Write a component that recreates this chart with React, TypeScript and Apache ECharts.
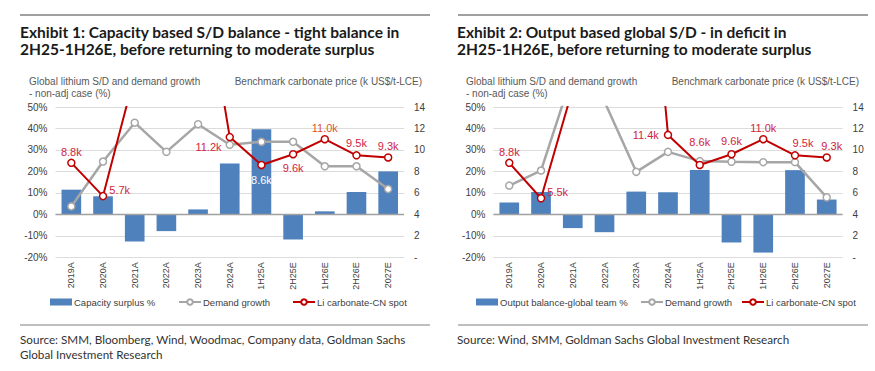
import React, { useEffect, useRef } from 'react';
import * as echarts from 'echarts';

const categories = ['2019A', '2020A', '2021A', '2022A', '2023A', '2024A', '1H25A', '2H25E', '1H26E', '2H26E', '2027E'];

// Exhibit 1
const capacitySurplus = [11.5, 8.4, -12.6, -7.8, 2.3, 23.7, 39.6, -11.7, 1.4, 10.4, 20.0];
const demandGrowth1 = [3.7, 24.6, 42.7, 29.1, 42.0, 32.4, 33.8, 33.8, 22.4, 22.4, 11.8];
const price1 = [8.8, 5.7, 17.0, 70.0, 29.0, 11.2, 8.6, 9.6, 11.0, 9.5, 9.3];

// Exhibit 2
const outputBalance = [5.5, 10.4, -6.4, -8.3, 10.6, 10.3, 20.7, -13.1, -17.8, 20.6, 6.9];
const demandGrowth2 = [13.4, 20.4, 65.7, 52.5, 19.8, 29.1, 24.8, 24.5, 24.3, 24.3, 7.9];
const price2 = [8.8, 5.5, 15.7, 70.0, 44.0, 11.4, 8.6, 9.6, 11.0, 9.5, 9.3];

const pctTicks = { min: -20, max: 50, interval: 10 };
const priceTicks = { min: 0, max: 14, interval: 2 };

const BLUE = '#4f81bd';
const GREY = '#a6a6a6';
const RED = '#c00000';
const LABEL_RED = '#d0243f';
const FONT = 'Liberation Sans';

type LabelSpec = null | { position: string; offset?: [number, number]; color?: string };

const labels1: LabelSpec[] = [
  { position: 'top', offset: [0, 3] },
  { position: 'right', offset: [-2, -6] },
  null, null, null,
  { position: 'left', offset: [0, 10] },
  { position: 'bottom', offset: [0, 1], color: '#ffffff' },
  { position: 'bottom' },
  { position: 'top', offset: [0, 3], color: '#e0562e' },
  { position: 'top', offset: [0, 1] },
  { position: 'top', offset: [0, 2] },
];
const labels2: LabelSpec[] = [
  { position: 'top', offset: [0, 3] },
  { position: 'right', offset: [-2, -6] },
  null, null, null,
  { position: 'left', offset: [-1, 0] },
  { position: 'top', offset: [0, -9] },
  { position: 'top', offset: [0, 1] },
  { position: 'top', offset: [0, 3] },
  { position: 'top', offset: [8, 1] },
  { position: 'top', offset: [5, 2] },
];

function priceData(values: number[], specs: LabelSpec[]) {
  return values.map((v, i) => {
    const s = specs[i];
    if (!s) return { value: v, label: { show: false } };
    return {
      value: v,
      label: {
        show: true,
        position: s.position,
        distance: 4,
        offset: s.offset || [0, 0],
        color: s.color || LABEL_RED,
        fontSize: 11,
        fontFamily: FONT,
        formatter: (p: any) => p.value.toFixed(1) + 'k',
      },
    };
  });
}

function buildAxes(gi: number) {
  const x = {
    type: 'category',
    gridIndex: gi,
    data: categories,
    axisLine: { show: false },
    axisTick: { show: false },
    axisLabel: { rotate: 90, interval: 0, fontSize: 9, color: '#404040', margin: 5, fontFamily: FONT },
  };
  const yl = {
    type: 'value',
    gridIndex: gi,
    position: 'left',
    ...pctTicks,
    axisLine: { show: false },
    axisTick: { show: false },
    axisLabel: { formatter: '{value}%', fontSize: 10, color: '#404040', margin: 8, fontFamily: FONT },
    splitLine: { lineStyle: { color: '#dcdcdc', width: 1.2 } },
  };
  const yr = {
    type: 'value',
    gridIndex: gi,
    position: 'right',
    ...priceTicks,
    axisLine: { show: false },
    axisTick: { show: false },
    axisLabel: {
      formatter: (v: number) => (v === 0 ? '-' : String(v)),
      fontSize: 10,
      color: '#404040',
      margin: 10,
      fontFamily: FONT,
    },
    splitLine: { show: false },
  };
  return { x, yl, yr };
}

function buildSeries(gi: number, barName: string, bars: number[], demand: number[], price: number[], specs: LabelSpec[]) {
  return [
    {
      name: barName,
      type: 'bar',
      xAxisIndex: gi,
      yAxisIndex: gi * 2,
      data: bars,
      barCategoryGap: '38%',
      itemStyle: { color: BLUE },
      z: 2,
      markLine: {
        silent: true,
        symbol: 'none',
        label: { show: false },
        lineStyle: { color: '#a0a0a0', type: 'solid', width: 1.3 },
        data: [{ yAxis: 0 }],
      },
    },
    {
      name: 'Demand growth',
      type: 'line',
      xAxisIndex: gi,
      yAxisIndex: gi * 2,
      data: demand,
      symbol: 'circle',
      symbolSize: 7,
      lineStyle: { color: GREY, width: 2.5 },
      itemStyle: { color: '#ffffff', borderColor: GREY, borderWidth: 1.5 },
      z: 3,
    },
    {
      name: 'Li carbonate-CN spot',
      type: 'line',
      xAxisIndex: gi,
      yAxisIndex: gi * 2 + 1,
      data: priceData(price, specs),
      symbol: 'circle',
      symbolSize: 7,
      clip: true,
      lineStyle: { color: RED, width: 2 },
      itemStyle: { color: '#ffffff', borderColor: RED, borderWidth: 1.5 },
      z: 4,
    },
  ];
}

function legendItem(name: string, left: number, rect: boolean) {
  return {
    left,
    top: 297,
    padding: 0,
    itemWidth: 22,
    itemHeight: 7,
    textStyle: { fontSize: 9.5, color: '#404040', fontFamily: FONT, padding: [0, 0, 0, -3] },
    data: [rect ? { name, icon: 'rect' } : name],
  };
}

export default function App() {
  const ref = useRef<HTMLDivElement>(null);
  useEffect(() => {
    const chart = echarts.init(ref.current!, null, { renderer: 'svg' });
    const a0 = buildAxes(0);
    const a1 = buildAxes(1);
    const titleFont = 'bold 15.5px Lato';
    const smallFont = `10px "${FONT}"`;
    const sourceFont = '11.7px Lato';
    const option: any = {
      animation: false,
      backgroundColor: '#ffffff',
      grid: [
        { left: 55.5, top: 107, width: 348.5, height: 150.3 },
        { left: 493.4, top: 107, width: 349.2, height: 150.3 },
      ],
      xAxis: [a0.x, a1.x],
      yAxis: [a0.yl, a0.yr, a1.yl, a1.yr],
      legend: [
        legendItem('Capacity surplus %', 50, true),
        legendItem('Demand growth', 178, false),
        legendItem('Li carbonate-CN spot', 292, false),
        legendItem('Output balance-global team %', 476, true),
        legendItem('Demand growth', 640, false),
        legendItem('Li carbonate-CN spot', 741, false),
      ],
      series: [
        ...buildSeries(0, 'Capacity surplus %', capacitySurplus, demandGrowth1, price1, labels1),
        ...buildSeries(1, 'Output balance-global team %', outputBalance, demandGrowth2, price2, labels2),
      ],
      graphic: [
        { type: 'line', shape: { x1: 20, y1: 15, x2: 430, y2: 15 }, style: { stroke: '#808080', lineWidth: 1.5 } },
        { type: 'line', shape: { x1: 458, y1: 15, x2: 868, y2: 15 }, style: { stroke: '#808080', lineWidth: 1.5 } },
        {
          type: 'text', x: 20, y: 23,
          style: {
            text: 'Exhibit 1: Capacity based S/D balance - tight balance in\n2H25-1H26E, before returning to moderate surplus',
            font: titleFont, lineHeight: 17.5, fill: '#1a1a1a',
          },
        },
        {
          type: 'text', x: 457, y: 23,
          style: {
            text: 'Exhibit 2: Output based global S/D - in deficit in\n2H25-1H26E, before returning to moderate surplus',
            font: titleFont, lineHeight: 17.5, fill: '#1a1a1a',
          },
        },
        {
          type: 'text', x: 29, y: 76,
          style: { text: 'Global lithium S/D and demand growth\n- non-adj case (%)', font: smallFont, lineHeight: 11.5, fill: '#595959' },
        },
        {
          type: 'text', x: 422, y: 76,
          style: { text: 'Benchmark carbonate price (k US$/t-LCE)', font: smallFont, lineHeight: 11.5, fill: '#595959', align: 'right' },
        },
        {
          type: 'text', x: 466, y: 76,
          style: { text: 'Global lithium S/D and demand growth\n- non-adj case (%)', font: smallFont, lineHeight: 11.5, fill: '#595959' },
        },
        {
          type: 'text', x: 859, y: 76,
          style: { text: 'Benchmark carbonate price (k US$/t-LCE)', font: smallFont, lineHeight: 11.5, fill: '#595959', align: 'right' },
        },
        { type: 'line', shape: { x1: 20, y1: 325, x2: 430, y2: 325 }, style: { stroke: '#808080', lineWidth: 1.2 } },
        { type: 'line', shape: { x1: 458, y1: 325, x2: 868, y2: 325 }, style: { stroke: '#808080', lineWidth: 1.2 } },
        {
          type: 'text', x: 20, y: 332,
          style: {
            text: 'Source: SMM, Bloomberg, Wind, Woodmac, Company data, Goldman Sachs\nGlobal Investment Research',
            font: sourceFont, lineHeight: 14.5, fill: '#333333',
          },
        },
        {
          type: 'text', x: 457, y: 332,
          style: { text: 'Source: Wind, SMM, Goldman Sachs Global Investment Research', font: sourceFont, lineHeight: 14.5, fill: '#333333' },
        },
      ],
    };
    chart.setOption(option);
    return () => chart.dispose();
  }, []);
  return (
    <div
      ref={ref}
      style={{ position: 'fixed', left: 0, top: 0, width: 875, height: 371, background: '#ffffff' }}
    />
  );
}
